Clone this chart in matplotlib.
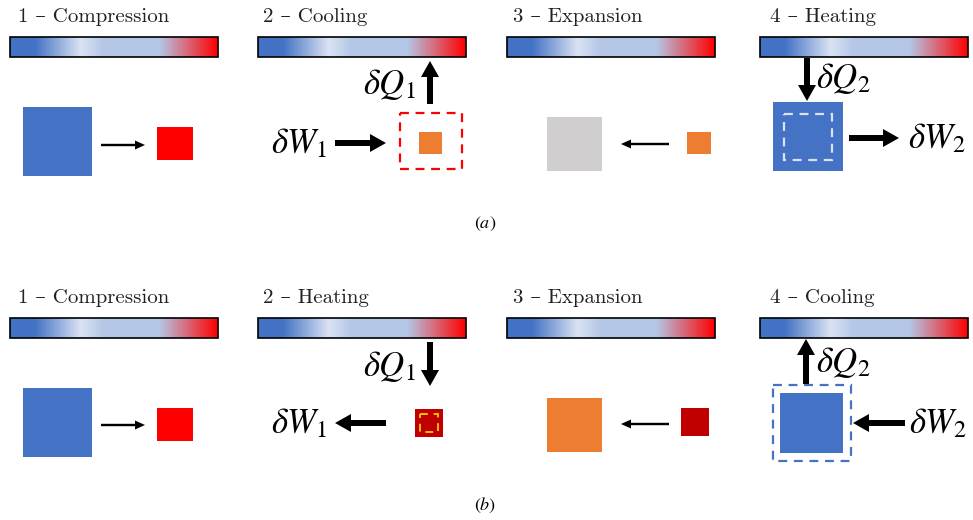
import matplotlib
matplotlib.use("Agg")
import matplotlib.pyplot as plt
from matplotlib.colors import LinearSegmentedColormap
from matplotlib.patches import Rectangle, FancyArrow
import numpy as np

plt.rcParams['mathtext.fontset'] = 'stix'

# stage titles for the two cycles
titles_a = ["1 – Compression", "2 – Cooling", "3 – Expansion", "4 – Heating"]
titles_b = ["1 – Compression", "2 – Heating", "3 – Expansion", "4 – Cooling"]
panel_labels = ["$(a)$", "$(b)$"]

# box colours
blue = "#4472C4"
red = "#FF0000"
orange = "#ED7D31"
grey = "#D0CECE"
darkred = "#C00000"
yellow = "#FFC000"

# temperature colour bar
cb_stops = [0.0, 0.12, 0.34, 0.45, 0.72, 1.0]
cb_colors = ["#4472C4", "#4472C4", "#DAE3F3", "#B4C7E7", "#B4C7E7", "#FF0000"]
cmap = LinearSegmentedColormap.from_list("temp", list(zip(cb_stops, cb_colors)))

fig = plt.figure(figsize=(9.73, 5.2), dpi=100)
ax = fig.add_axes([0, 0, 1, 1])
ax.set_xlim(0, 973)
ax.set_ylim(520, 0)
ax.axis("off")

title_font = dict(family=["cmr10", "DejaVu Serif"], fontsize=15, color="#222222")
mfs = 25

def box(x0, y0, x1, y1, color, **kw):
    ax.add_patch(Rectangle((x0, y0), x1 - x0, y1 - y0, facecolor=color,
                           edgecolor="none", **kw))

def dbox(x0, y0, x1, y1, color, lw=1.6):
    ax.add_patch(Rectangle((x0, y0), x1 - x0, y1 - y0, facecolor="none",
                           edgecolor=color, lw=lw, linestyle=(0, (4, 3))))

def thin(x0, y0, x1, y1):
    ax.add_patch(FancyArrow(x0, y0, x1 - x0, y1 - y0, width=2.4, head_width=9,
                            head_length=10, length_includes_head=True,
                            color="black", lw=0))

def thick(x0, y0, x1, y1):
    ax.add_patch(FancyArrow(x0, y0, x1 - x0, y1 - y0, width=6, head_width=18,
                            head_length=16, length_includes_head=True,
                            color="black", lw=0))

grad = np.linspace(0, 1, 256).reshape(1, -1)
cb_x = [10, 258, 507, 760]
tx = [18, 263, 513, 770]

for row, titles in enumerate([titles_a, titles_b]):
    dy = row * 281
    for i in range(4):
        ax.text(tx[i], 17 + dy, titles[i], va="center", ha="left", **title_font)
        ax.imshow(grad, cmap=cmap, aspect="auto",
                  extent=(cb_x[i], cb_x[i] + 208, 57 + dy, 37 + dy), zorder=1)
        ax.add_patch(Rectangle((cb_x[i], 37 + dy), 208, 20, facecolor="none",
                               edgecolor="black", lw=1.2, zorder=2))
    ax.text(485, 224 + dy, panel_labels[row], ha="center", va="center", fontsize=13)

# ---- (a) ----
box(23, 107, 92, 176, blue)
thin(101, 145, 145, 145)
box(157, 127, 193, 160, red)

dbox(400, 113, 462, 169, red)
box(419, 132, 442, 154, orange)
thick(335, 143, 386, 143)
ax.text(299, 143, r"$\delta W_1$", fontsize=mfs, ha="center", va="center")
thick(430, 104, 430, 61)
ax.text(389, 84, r"$\delta Q_1$", fontsize=mfs, ha="center", va="center")

box(547, 117, 602, 171, grey)
thin(669, 144, 621, 144)
box(687, 132, 711, 154, orange)

box(773, 102, 843, 171, blue)
dbox(784, 114, 832, 160, "#DAE3F3")
thick(807, 58, 807, 101)
ax.text(843, 78, r"$\delta Q_2$", fontsize=mfs, ha="center", va="center")
thick(849, 138, 899, 138)
ax.text(937, 138, r"$\delta W_2$", fontsize=mfs, ha="center", va="center")

# ---- (b) ----
box(23, 388, 92, 457, blue)
thin(101, 425, 145, 425)
box(157, 408, 193, 441, red)

thick(430, 342, 430, 386)
ax.text(389, 366, r"$\delta Q_1$", fontsize=mfs, ha="center", va="center")
thick(386, 423, 335, 423)
ax.text(299, 423, r"$\delta W_1$", fontsize=mfs, ha="center", va="center")
box(415, 409, 443, 437, darkred)
dbox(420, 414, 438, 432, yellow, lw=1.4)

box(547, 398, 602, 452, orange)
thin(669, 424, 621, 424)
box(681, 408, 709, 436, darkred)

dbox(773, 385, 851, 461, blue)
box(780, 393, 843, 453, blue)
thick(806, 384, 806, 339)
ax.text(843, 362, r"$\delta Q_2$", fontsize=mfs, ha="center", va="center")
thick(905, 423, 853, 423)
ax.text(938, 423, r"$\delta W_2$", fontsize=mfs, ha="center", va="center")

fig.savefig("out.png", dpi=100)
